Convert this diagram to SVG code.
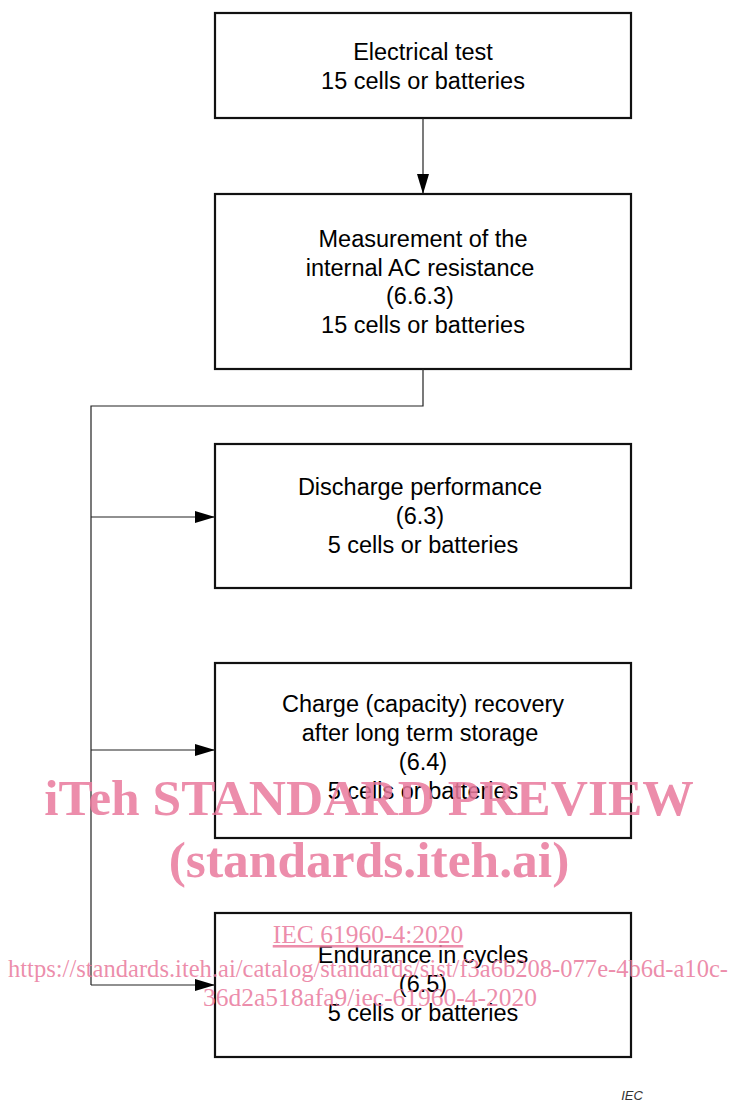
<svg xmlns="http://www.w3.org/2000/svg" width="729" height="1101" viewBox="0 0 729 1101">
<style>
.box{fill:#fff;stroke:#111;stroke-width:2.2}
.t{font-family:"Liberation Sans",Arial,sans-serif;font-size:23.5px;fill:#000;text-anchor:middle}
.c{fill:none;stroke:#222;stroke-width:1.2}
.wm{font-family:"Liberation Serif","Times New Roman",serif;fill:#e9799c;fill-opacity:0.85;text-anchor:middle}
</style>
<defs>
<marker id="ah" markerWidth="20" markerHeight="12" refX="20" refY="6" orient="auto" markerUnits="userSpaceOnUse">
<path d="M0,0 L20,6 L0,12 Z" fill="#000"/>
</marker>
</defs>
<rect width="729" height="1101" fill="#fff"/>
<g id="n1"><rect class="box" x="215" y="13" width="416" height="105"/>
<text class="t" x="423" y="60">Electrical test</text><text class="t" x="423" y="89">15 cells or batteries</text></g>
<g id="n2"><rect class="box" x="215" y="194" width="416" height="175"/>
<text class="t" x="423" y="247">Measurement of the</text><text class="t" x="420" y="276">internal AC resistance</text><text class="t" x="420" y="304">(6.6.3)</text><text class="t" x="423" y="333">15 cells or batteries</text></g>
<g id="n3"><rect class="box" x="215" y="444" width="416" height="144"/>
<text class="t" x="420" y="495">Discharge performance</text><text class="t" x="420" y="524">(6.3)</text><text class="t" x="423" y="553">5 cells or batteries</text></g>
<g id="n4"><rect class="box" x="215" y="663" width="416" height="175"/>
<text class="t" x="423" y="712">Charge (capacity) recovery</text><text class="t" x="420" y="741">after long term storage</text><text class="t" x="423" y="770">(6.4)</text><text class="t" x="423" y="799">5 cells or batteries</text></g>
<g id="n5"><rect class="box" x="215" y="913" width="416" height="144"/>
<text class="t" x="423" y="963">Endurance in cycles</text><text class="t" x="423" y="992">(6.5)</text><text class="t" x="423" y="1021">5 cells or batteries</text></g>
<g id="connectors">
<line class="c" x1="423" y1="118" x2="423" y2="194" marker-end="url(#ah)"/>
<polyline class="c" points="423,369 423,406 91,406 91,985"/>
<line class="c" x1="91" y1="517" x2="215" y2="517" marker-end="url(#ah)"/>
<line class="c" x1="91" y1="750" x2="215" y2="750" marker-end="url(#ah)"/>
<line class="c" x1="91" y1="985" x2="215" y2="985" marker-end="url(#ah)"/>
</g>
<g id="watermark">
<text class="wm" x="369" y="815" font-size="51.5" font-weight="bold">iTeh STANDARD PREVIEW</text>
<text class="wm" x="369" y="877" font-size="51.5" font-weight="bold">(standards.iteh.ai)</text>
<text class="wm" x="368" y="943" font-size="25.5" text-decoration="underline">IEC 61960-4:2020</text>
<text class="wm" x="368" y="977" font-size="25" textLength="720" lengthAdjust="spacingAndGlyphs">https://standards.iteh.ai/catalog/standards/sist/f3a6b208-077e-4b6d-a10c-</text>
<text class="wm" x="370" y="1006" font-size="25.5">36d2a518afa9/iec-61960-4-2020</text>
</g>
<text x="632" y="1100" font-family="Liberation Sans,Arial,sans-serif" font-size="13" font-style="italic" fill="#333" text-anchor="middle">IEC</text>
</svg>
